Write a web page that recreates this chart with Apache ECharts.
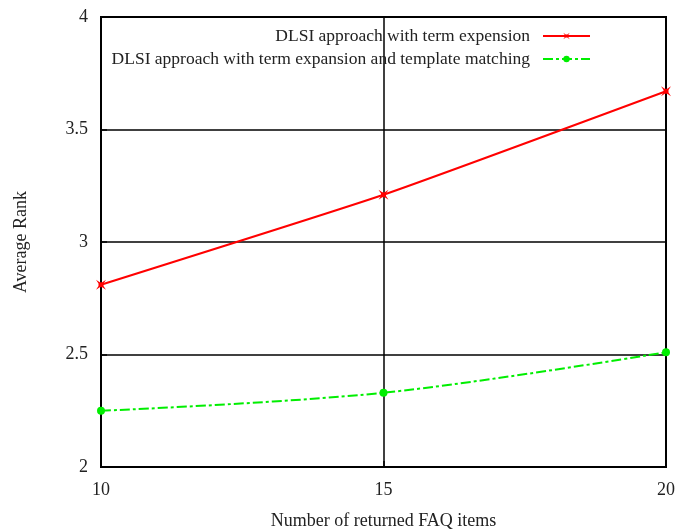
<!DOCTYPE html>
<html><head><meta charset="utf-8">
<script src="https://cdn.jsdelivr.net/npm/echarts@6/dist/echarts.min.js"></script>
<style>html,body{margin:0;padding:0;background:#fff}#c{width:680px;height:532px}</style>
</head><body><div id="c"></div>
<script>
const xValues = [10, 15, 20];
const seriesNames = ['DLSI approach with term expension', 'DLSI approach with term expansion and template matching'];
const termExpansion = [2.81, 3.21, 3.67];
const templateMatching = [2.25, 2.33, 2.51];
const xAxisName = 'Number of returned FAQ items';
const yAxisName = 'Average Rank';

const font = 'Liberation Serif';
const chart = echarts.init(document.getElementById('c'));
const starPath = 'path://M0,0 L3,2 L5,2 L8,0 L6,3 L6,5 L8,8 L5,6 L3,6 L0,8 L2,5 L2,3 Z';
const legendText = { fontFamily: font, fontSize: 17.5, color: '#222', padding: [0, 8, 0, 0] };
chart.setOption({
  backgroundColor: '#fff',
  animation: false,
  grid: { left: 101, right: 14, top: 17, bottom: 65, outerBoundsMode: 'none', containLabel: false,
    show: true, borderColor: '#000', borderWidth: 2, backgroundColor: 'transparent' },
  legend: [
    { data: [seriesNames[0]], right: 84, top: 22, align: 'right', itemWidth: 47, itemHeight: 8,
      textStyle: legendText },
    { data: [seriesNames[1]], right: 84, top: 45, align: 'right', itemWidth: 47, itemHeight: 8,
      textStyle: legendText }
  ],
  xAxis: {
    type: 'value', min: 10, max: 20, interval: 5,
    name: xAxisName, nameLocation: 'middle', nameGap: 45,
    nameTextStyle: { fontFamily: font, fontSize: 18, color: '#222' },
    axisLine: { lineStyle: { color: '#000', width: 2 } },
    axisTick: { inside: true, length: 6, lineStyle: { color: '#000', width: 1.5 } },
    axisLabel: { fontFamily: font, fontSize: 18, color: '#222', margin: 14 },
    splitLine: { show: true, lineStyle: { color: '#000', width: 1.5 } }
  },
  yAxis: {
    type: 'value', min: 2, max: 4, interval: 0.5,
    name: yAxisName, nameLocation: 'middle', nameGap: 71,
    nameTextStyle: { fontFamily: font, fontSize: 18, color: '#222' },
    axisLine: { lineStyle: { color: '#000', width: 2 } },
    axisTick: { inside: true, length: 6, lineStyle: { color: '#000', width: 1.5 } },
    axisLabel: { fontFamily: font, fontSize: 18, color: '#222', margin: 13 },
    splitLine: { show: true, lineStyle: { color: '#000', width: 1.5 } }
  },
  series: [
    { name: seriesNames[0], type: 'line', smooth: 0.15,
      data: xValues.map((x, i) => [x, termExpansion[i]]),
      symbol: starPath, symbolSize: 10,
      itemStyle: { color: '#ff0000' }, lineStyle: { color: '#ff0000', width: 2 } },
    { name: seriesNames[1], type: 'line', smooth: 0.35,
      data: xValues.map((x, i) => [x, templateMatching[i]]),
      symbol: 'circle', symbolSize: 8,
      itemStyle: { color: '#00ee00' }, lineStyle: { color: '#00ee00', width: 2, type: [10, 3, 3, 3] } }
  ]
});
</script></body></html>
